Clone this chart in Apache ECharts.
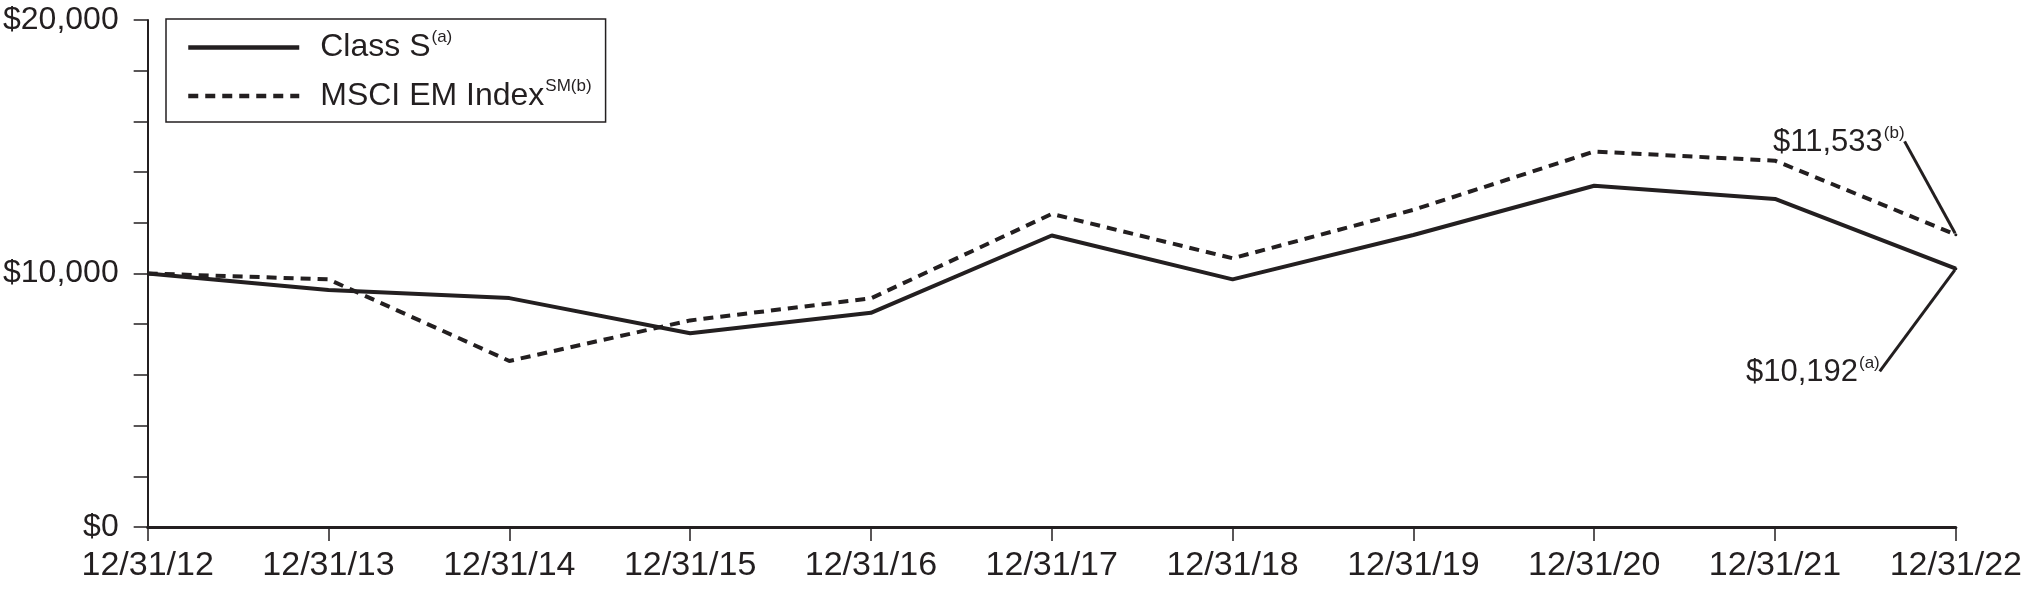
<!DOCTYPE html>
<html>
<head>
<meta charset="utf-8">
<script src="https://cdn.jsdelivr.net/npm/echarts@6/dist/echarts.min.js"></script>
<style>
  html, body { margin: 0; padding: 0; background: #fff; }
  #chart { width: 2025px; height: 590px; }
</style>
</head>
<body>
<div id="chart"></div>
<script>
// data
const categories = ['12/31/12', '12/31/13', '12/31/14', '12/31/15', '12/31/16', '12/31/17',
  '12/31/18', '12/31/19', '12/31/20', '12/31/21', '12/31/22']
const classS = [10000, 9350, 9030, 7640, 8450, 11500, 9770, 11520, 13460, 12940, 10192]
const msciEM = [10000, 9770, 6550, 8150, 9020, 12350, 10600, 12510, 14810, 14450, 11533]
const yTickLabels = { 0: '$0', 10000: '$10,000', 20000: '$20,000' }
const endLabels = { classS: ['$10,192', '(a)'], msciEM: ['$11,533', '(b)'] }

const ink = '#231f20'
const sans = 'Liberation Sans, Arial, Helvetica, sans-serif'

const chart = echarts.init(document.getElementById('chart'))

const endRich = {
  v: { fontFamily: sans, fontSize: 31, color: ink, lineHeight: 34 },
  s: { fontFamily: sans, fontSize: 17, color: ink, verticalAlign: 'top', lineHeight: 34, padding: [0, 0, 14, 1] }
}

// only the last point gets a (tiny) symbol so its label can be drawn
function withEndLabel(values, parts, position) {
  const last = values.length - 1
  return values.map((v, i) => i !== last ? v : {
    value: v,
    symbol: 'circle',
    symbolSize: 3,
    label: {
      show: true,
      position: position,
      formatter: '{v|' + parts[0] + '}{s|' + parts[1] + '}',
      rich: endRich
    }
  })
}

const option = {
  animation: false,
  legend: {
    orient: 'vertical',
    left: 166,
    top: 19,
    padding: [10, 14, 10, 20],
    borderColor: ink,
    borderWidth: 1.5,
    itemWidth: 111,
    itemHeight: 14,
    itemGap: 14,
    itemStyle: { opacity: 0 },
    lineStyle: { width: 4.5 },
    textStyle: {
      color: ink,
      rich: {
        g: { width: 16 },
        n: { fontFamily: sans, fontSize: 32, color: ink, lineHeight: 37 },
        s: { fontFamily: sans, fontSize: 17, color: ink, verticalAlign: 'top', lineHeight: 37, padding: [0, 0, 14, 1] }
      }
    },
    formatter: name => {
      const sup = name === 'Class S' ? '(a)' : 'SM(b)'
      return '{g|}{n|' + name + '}{s|' + sup + '}'
    },
    data: ['Class S', 'MSCI EM Index']
  },
  grid: { left: 146, right: 67, top: 20, bottom: 63 },
  xAxis: {
    type: 'category',
    data: categories,
    boundaryGap: false,
    axisLine: { lineStyle: { color: ink, width: 3 } },
    axisTick: { show: true, interval: 0, length: 14, lineStyle: { color: ink, width: 1.5 } },
    axisLabel: {
      interval: 0,
      margin: 22,
      color: ink,
      fontFamily: sans,
      fontSize: 34
    }
  },
  yAxis: {
    type: 'value',
    min: 0,
    max: 20000,
    interval: 2000,
    axisLine: { show: true, lineStyle: { color: ink, width: 2 } },
    axisTick: { show: true, length: 14, lineStyle: { color: ink, width: 1.5 } },
    splitLine: { show: false },
    axisLabel: {
      margin: 29,
      color: ink,
      fontFamily: sans,
      fontSize: 32,
      formatter: v => yTickLabels[v] || ''
    }
  },
  series: [
    {
      name: 'Class S',
      type: 'line',
      symbol: 'none',
      data: withEndLabel(classS, endLabels.classS, 'bottom'),
      lineStyle: { color: ink, width: 4 },
      itemStyle: { color: ink },
      labelLayout: { dx: -143, dy: 80 },
      labelLine: { show: true, lineStyle: { color: ink, width: 3 } }
    },
    {
      name: 'MSCI EM Index',
      type: 'line',
      symbol: 'none',
      data: withEndLabel(msciEM, endLabels.msciEM, 'top'),
      lineStyle: { color: ink, width: 4, type: [10, 7] },
      itemStyle: { color: ink },
      labelLayout: { dx: -117, dy: -69 },
      labelLine: { show: true, lineStyle: { color: ink, width: 3 } }
    }
  ]
}

chart.setOption(option)
</script>
</body>
</html>
